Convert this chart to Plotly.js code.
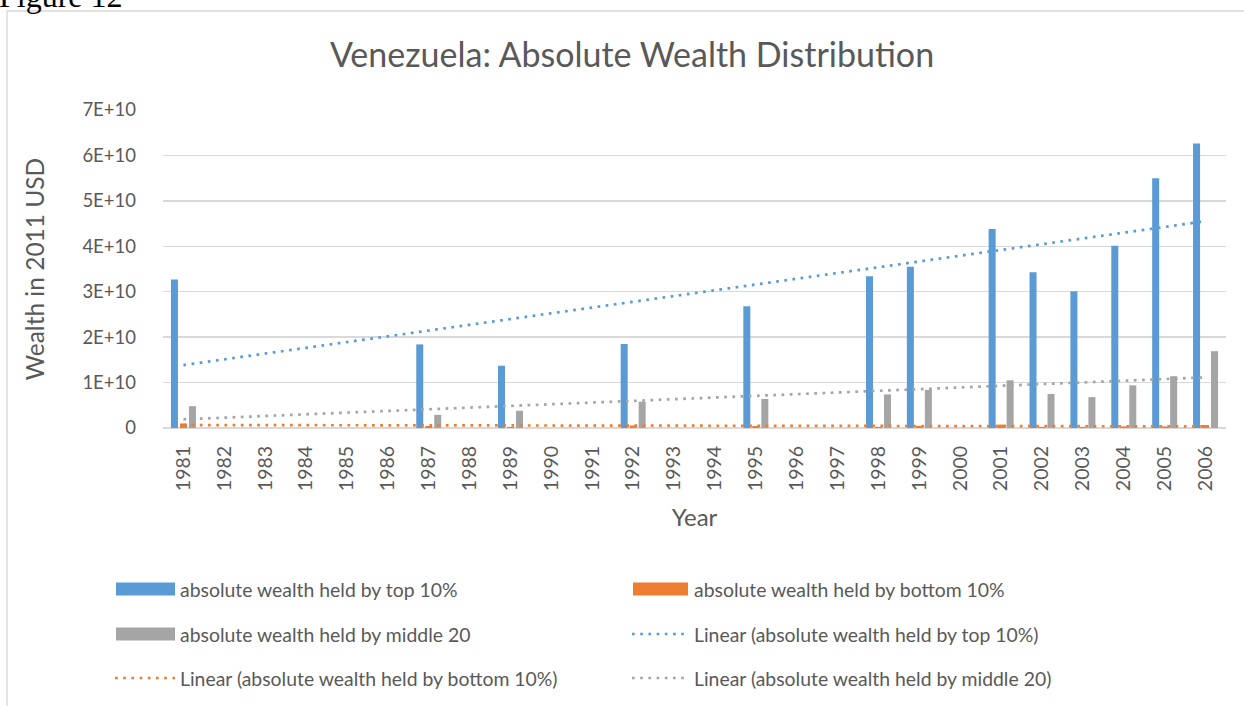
<!DOCTYPE html>
<html>
<head>
<meta charset="utf-8">
<script src="https://cdn.plot.ly/plotly-3.0.1.min.js"></script>
<style>
  html, body { margin: 0; padding: 0; background: #ffffff; }
  #chart { width: 1244px; height: 706px; }
</style>
</head>
<body>
<div id="chart"></div>
<script>
// ---- Data ----
const categories = ['1981','1982','1983','1984','1985','1986','1987','1988','1989','1990','1991','1992','1993',
                    '1994','1995','1996','1997','1998','1999','2000','2001','2002','2003','2004','2005','2006'];
const dataYears  = ['1981','1987','1989','1992','1995','1998','1999','2001','2002','2003','2004','2005','2006'];
const top10      = [3.27e10, 1.84e10, 1.37e10, 1.85e10, 2.68e10, 3.34e10, 3.55e10, 4.38e10, 3.43e10, 3.01e10, 4.01e10, 5.50e10, 6.26e10];
const bottom10   = [1.0e9, 4.5e8, 2.5e8, 5.5e8, 4.5e8, 2.5e8, 4.5e8, 7.5e8, 2.5e8, 2.5e8, 3.5e8, 3.5e8, 6.5e8];
const middle20   = [0.48e10, 0.29e10, 0.38e10, 0.58e10, 0.64e10, 0.74e10, 0.84e10, 1.05e10, 0.75e10, 0.68e10, 0.94e10, 1.14e10, 1.69e10];
const seriesNames = ['absolute wealth held by top 10%', 'absolute wealth held by bottom 10%', 'absolute wealth held by middle 20'];
const trendNames  = ['Linear (absolute wealth held by top 10%)', 'Linear (absolute wealth held by bottom 10%)', 'Linear (absolute wealth held by middle 20)'];
const yTickVals  = [0, 1e10, 2e10, 3e10, 4e10, 5e10, 6e10, 7e10];
const yTickText  = ['0', '1E+10', '2E+10', '3E+10', '4E+10', '5E+10', '6E+10', '7E+10'];
const chartTitle = 'Venezuela: Absolute Wealth Distribution';
const xTitle = 'Year';
const yTitle = 'Wealth in 2011 USD';
const figureLabel = 'Figure 12';

// ---- Style ----
const colors = ['#5B9BD5', '#ED7D31', '#A5A5A5'];
const textColor = '#595959';
const gridColor = '#D9D9D9';
const FONT = 'Lato, "Open Sans", sans-serif';
const dotDash = '2.7px,5.5px';

// Plot area geometry (pixels)
const W = 1244, H = 706;
const PL = 163, PR = 1226, PT = 110, PB = 428;
const px2x = p => (p - PL) / (PR - PL);
const py2y = p => (PB - p) / (PB - PT);

// Linear trend on category index (as the spreadsheet trendline does)
function linearTrend(vals) {
  const xs = dataYears.map(y => categories.indexOf(y) + 1);
  const n = xs.length;
  const mx = xs.reduce((a, b) => a + b, 0) / n;
  const my = vals.reduce((a, b) => a + b, 0) / n;
  let sxy = 0, sxx = 0;
  for (let i = 0; i < n; i++) { sxy += (xs[i] - mx) * (vals[i] - my); sxx += (xs[i] - mx) ** 2; }
  const b = sxy / sxx, a = my - b * mx;
  return categories.map((_, i) => a + b * (i + 1));
}

const seriesVals = [top10, bottom10, middle20];
const traces = [];
seriesVals.forEach((vals, k) => {
  traces.push({
    type: 'bar', x: dataYears, y: vals, name: seriesNames[k],
    marker: { color: colors[k] }, showlegend: false, hoverinfo: 'skip'
  });
});
seriesVals.forEach((vals, k) => {
  traces.push({
    type: 'scatter', mode: 'lines', x: categories, y: linearTrend(vals), name: trendNames[k],
    line: { color: colors[k], width: 2.7, dash: dotDash }, showlegend: false, hoverinfo: 'skip'
  });
});

// ---- Manual legend (wide swatches as in the original) ----
const shapes = [];
const annotations = [];
const legendRows = [589, 634, 678];
const legendItems = [
  { name: seriesNames[0], kind: 'bar',  color: colors[0], col: 0, row: 0 },
  { name: seriesNames[1], kind: 'bar',  color: colors[1], col: 1, row: 0 },
  { name: seriesNames[2], kind: 'bar',  color: colors[2], col: 0, row: 1 },
  { name: trendNames[0],  kind: 'line', color: colors[0], col: 1, row: 1 },
  { name: trendNames[1],  kind: 'line', color: colors[1], col: 0, row: 2 },
  { name: trendNames[2],  kind: 'line', color: colors[2], col: 1, row: 2 }
];
const colSwatch = [[116, 175], [633, 688]];
const colText = [181, 695];
legendItems.forEach(it => {
  const yc = legendRows[it.row];
  const [sx0, sx1] = colSwatch[it.col];
  if (it.kind === 'bar') {
    shapes.push({ type: 'rect', xref: 'paper', yref: 'paper',
      x0: px2x(sx0), x1: px2x(sx1), y0: py2y(yc + 6.5), y1: py2y(yc - 6.5),
      fillcolor: it.color, line: { width: 0 } });
  } else {
    shapes.push({ type: 'line', xref: 'paper', yref: 'paper',
      x0: px2x(sx0 - 1), x1: px2x(sx1), y0: py2y(yc), y1: py2y(yc),
      line: { color: it.color, width: 2.7, dash: dotDash } });
  }
  annotations.push({ xref: 'paper', yref: 'paper', x: px2x(colText[it.col] - 3), y: py2y(yc),
    xanchor: 'left', yanchor: 'middle', showarrow: false, text: it.name,
    font: { family: FONT, size: 19.4, color: textColor } });
});

// Chart frame
shapes.push({ type: 'rect', xref: 'paper', yref: 'paper', layer: 'below',
  x0: px2x(7), x1: px2x(1262), y0: py2y(730), y1: py2y(11),
  line: { color: '#D9D9D9', width: 1.3 }, fillcolor: 'rgba(0,0,0,0)' });

// Figure label (partly cut at top, as in the original)
annotations.push({ xref: 'paper', yref: 'paper', x: px2x(-3), y: py2y(-4),
  xanchor: 'left', yanchor: 'middle', showarrow: false, text: figureLabel,
  font: { family: '"Liberation Serif", "Times New Roman", serif', size: 32, color: '#000000' } });

const layout = {
  width: W, height: H,
  margin: { l: PL, r: W - PR, t: PT, b: H - PB, pad: 0 },
  paper_bgcolor: '#ffffff', plot_bgcolor: '#ffffff',
  font: { family: FONT, color: textColor },
  title: { text: chartTitle, font: { family: FONT, size: 34, color: textColor },
           xref: 'container', yref: 'container', x: 632 / W, y: 1 - 55 / H, xanchor: 'center', yanchor: 'middle' },
  barmode: 'group', bargap: 0.34, bargroupgap: 0.22,
  showlegend: false,
  xaxis: {
    type: 'category', categoryorder: 'array', categoryarray: categories,
    range: [-0.5, categories.length - 0.5],
    tickangle: -90, tickfont: { family: FONT, size: 19.5, color: textColor },
    showgrid: false, showline: false, zeroline: false, ticks: '',
    ticklabelstandoff: 13,
    title: { text: xTitle, font: { family: FONT, size: 24, color: textColor }, standoff: 19 }
  },
  yaxis: {
    range: [0, 7e10], tickvals: yTickVals, ticktext: yTickText,
    tickfont: { family: FONT, size: 18.5, color: textColor },
    showgrid: true, gridcolor: gridColor, gridwidth: 1.3,
    zeroline: true, zerolinecolor: gridColor, zerolinewidth: 1.5,
    showline: false, ticks: '', ticklabelstandoff: 26,
    title: { text: yTitle, font: { family: FONT, size: 24.5, color: textColor }, standoff: 30 }
  },
  shapes: shapes,
  annotations: annotations,
  hovermode: false
};

Plotly.newPlot('chart', traces, layout, { displayModeBar: false, staticPlot: true });
</script>
</body>
</html>
